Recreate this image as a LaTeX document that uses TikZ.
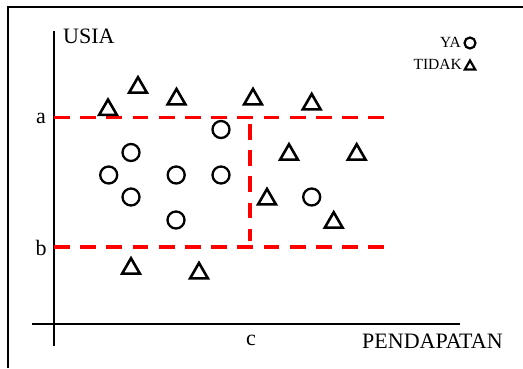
\documentclass[tikz,border=0pt]{standalone}
\usepackage{fontspec}
\setmainfont{Liberation Serif}
\usetikzlibrary{shapes.geometric}
\begin{document}
\begin{tikzpicture}[x=1pt,y=-1pt,
  tri/.style={draw, regular polygon, regular polygon sides=3, minimum size=20.5pt, inner sep=0pt, line width=2.6pt},
  circ/.style={draw, circle, minimum size=17pt, inner sep=0pt, line width=2.3pt},
  legtri/.style={tri, minimum size=12pt, line width=2.2pt},
  legcirc/.style={circ, minimum size=11pt, line width=2.2pt},
  axisline/.style={line width=2.8pt},
  framel/.style={line width=2.5pt},
  redd/.style={red, line width=3.5pt, dash pattern=on 15.7pt off 10.5pt},
  lbl/.style={font=\fontsize{22}{22}\selectfont, inner sep=0pt},
  leg/.style={font=\fontsize{15.5}{15.5}\selectfont, inner sep=0pt},
  ]
\useasboundingbox (0,0) rectangle (523,368);
% frame
\coordinate (fbl) at (8,368);
\coordinate (ftl) at (8,7);
\coordinate (ftr) at (523,7);
\draw[framel] (fbl) -- (ftl) -- (ftr);
% axes
\coordinate (yt) at (54,31);
\coordinate (yb) at (54,346);
\coordinate (xl) at (32,324);
\coordinate (xr) at (460,324);
\draw[axisline] (yb) -- (yt);
\draw[axisline] (xl) -- (xr);
% red dashed boundaries
\coordinate (a0) at (54,117.3);
\coordinate (a1) at (386,117.3);
\coordinate (b0) at (54,247);
\coordinate (b1) at (386,247);
\coordinate (c0) at (250,124);
\coordinate (c1) at (250,241);
\draw[redd] (a0) -- (a1);
\draw[redd] (b0) -- (b1);
\draw[redd] (c0) -- (c1);
% labels
\node[lbl, anchor=base west] (usia) at (63,43.5) {USIA};
\node[lbl, anchor=base west] (pend) at (362,348.3) {PENDAPATAN};
\node[lbl, anchor=base] (la) at (41,123.3) {a};
\node[lbl, anchor=base] (lb) at (41,255) {b};
\node[lbl, anchor=base] (lc) at (251,345) {c};
% legend
\node[leg, anchor=base east] (ya) at (461,47) {YA};
\node[leg, anchor=base east] (tidak) at (462,69.5) {TIDAK};
\node[legcirc] (lya) at (470,43) {};
\node[legtri] (ltidak) at (470,66.5) {};
% triangles (TIDAK)
\node[tri] (t1) at (108,109.8) {};
\node[tri] (t2) at (138,87.5) {};
\node[tri] (t3) at (176.5,99.2) {};
\node[tri] (t4) at (253,99.2) {};
\node[tri] (t5) at (311.7,104.2) {};
\node[tri] (t6) at (289,154.5) {};
\node[tri] (t7) at (356.7,154.5) {};
\node[tri] (t8) at (267,199.2) {};
\node[tri] (t9) at (333.7,222.5) {};
\node[tri] (t10) at (131,268.5) {};
\node[tri] (t11) at (199,273.2) {};
% circles (YA)
\node[circ] (o1) at (221,129.5) {};
\node[circ] (o2) at (131,152.5) {};
\node[circ] (o3) at (108.7,175) {};
\node[circ] (o4) at (176.2,175) {};
\node[circ] (o5) at (221,175) {};
\node[circ] (o6) at (131,197) {};
\node[circ] (o7) at (176,220) {};
\node[circ] (o8) at (311.7,197) {};
\end{tikzpicture}
\end{document}
